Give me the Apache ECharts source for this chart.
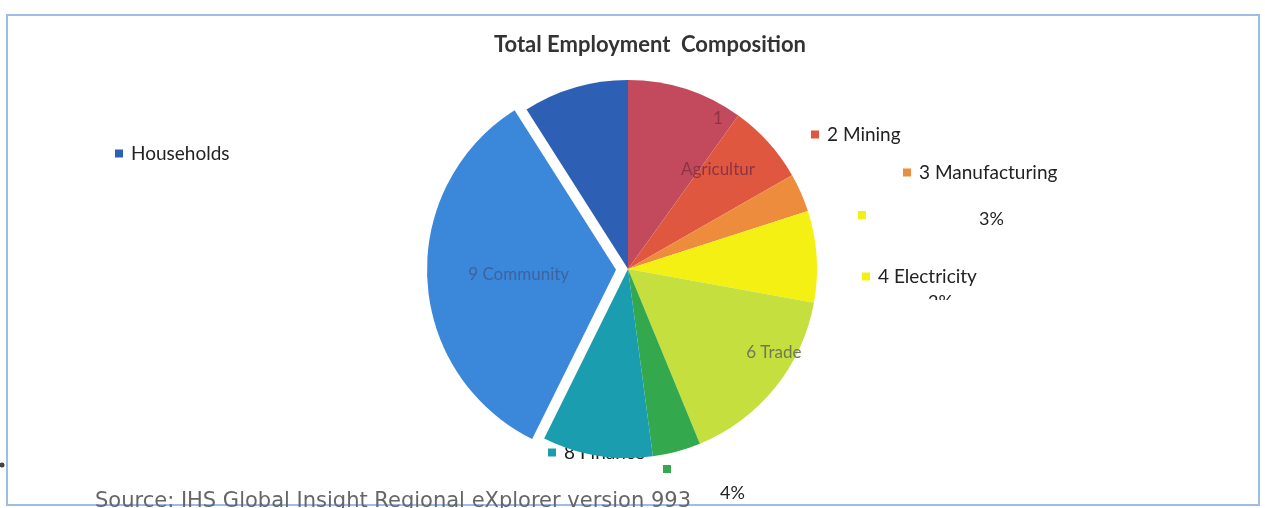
<!DOCTYPE html>
<html>
<head>
<meta charset="utf-8">
<title>Total Employment Composition</title>
<script src="https://cdn.jsdelivr.net/npm/echarts@6/dist/echarts.min.js"></script>
<style>
  html, body { margin: 0; padding: 0; background: #fff; }
  #chart { width: 1265px; height: 508px; }
</style>
</head>
<body>
<div id="chart"></div>
<script>
// sectors and their share of total employment (%)
const sectors = ['1 Agriculture', '2 Mining', '3 Manufacturing', '4 Electricity', '6 Trade',
                 '7 Transport', '8 Finance', '9 Community', 'Households'];
const shares = [9.9, 6.8, 3.3, 7.8, 15.9, 4.1, 9.4, 33.6, 9.0];
const sliceColors = ['#c24a5c', '#e0573f', '#ec8c3c', '#f5f014', '#c5df3f',
                     '#34a84c', '#1b9db0', '#3b87d9', '#2d5fb5'];
const pctLabels = ['3%', '2%', '4%'];
const sourceNote = 'Source: IHS Global Insight Regional eXplorer version 993';

const chart = echarts.init(document.getElementById('chart'));

// labels drawn inside some slices
const innerLabels = {
    '1 Agriculture': { text: '1\n\n\nAgricultur', color: '#8e3345', offset: [60, -32] },
    '6 Trade': { text: '6 Trade', color: '#6f7a52', offset: [70, 22] },
    '9 Community': { text: '9 Community', color: '#3d63a0', offset: [-22, 9] }
};

const pieData = sectors.map(function (name, i) {
    const item = { name: name, value: shares[i], itemStyle: { color: sliceColors[i] } };
    const lab = innerLabels[name];
    if (lab) {
        item.label = {
            show: true,
            position: 'inside',
            formatter: lab.text,
            color: lab.color,
            offset: lab.offset,
            fontSize: 17,
            fontFamily: 'Lato',
            lineHeight: 17
        };
    }
    if (name === '9 Community') {
        item.selected = true;   // exploded slice
    }
    return item;
});

// one small legend per outside key, like the original
function key(name, left, top, showText) {
    return {
        data: [name],
        left: left,
        top: top,
        orient: 'vertical',
        icon: 'rect',
        itemWidth: 8,
        itemHeight: 8,
        itemGap: 0,
        selectedMode: false,
        z: 1,
        formatter: showText ? '{name}' : function () { return ''; },
        textStyle: { fontSize: 19, color: '#222', fontFamily: 'Lato', padding: [0, 0, 0, 3] }
    };
}

chart.setOption({
    animation: false,
    title: {
        text: 'Total Employment  Composition',
        left: 645,
        textAlign: 'center',
        top: 29,
        textStyle: { fontSize: 22, fontWeight: 'bold', color: '#333', fontFamily: 'Lato' }
    },
    legend: [
        key('Households', 110, 139, true),
        key('2 Mining', 806, 120, true),
        key('3 Manufacturing', 898, 158, true),
        key('4 Electricity', 853, 206, false),
        key('4 Electricity', 857, 262, true),
        key('8 Finance', 543, 438, true),
        key('7 Transport', 658, 460, false)
    ],
    series: [{
        type: 'pie',
        center: [628, 269],
        radius: 189,
        startAngle: 90,
        clockwise: true,
        selectedMode: 'single',
        selectedOffset: 12,
        z: 2,
        label: { show: false },
        labelLine: { show: false },
        emphasis: { disabled: true },
        itemStyle: { borderColor: '#fff', borderWidth: 0 },
        data: pieData
    }],
    graphic: [
        {   // outer frame
            type: 'rect',
            shape: { x: 7, y: 15, width: 1252, height: 490 },
            style: { fill: 'none', stroke: '#9dbde6', lineWidth: 2 },
            z: 0
        },
        {
            type: 'text', left: 979, top: 210, z: 5,
            style: { text: pctLabels[0], fontSize: 18, fill: '#222', fontFamily: 'Lato' }
        },
        {
            type: 'text', left: 928, top: 293, z: 5,
            style: { text: pctLabels[1], fontSize: 18, fill: '#222', fontFamily: 'Lato' }
        },
        {   // the 2% label is cut off in the original
            type: 'rect', z: 6,
            shape: { x: 900, y: 300, width: 80, height: 20 },
            style: { fill: '#fff' }
        },
        {
            type: 'text', left: 720, top: 484, z: 5,
            style: { text: pctLabels[2], fontSize: 18, fill: '#222', fontFamily: 'Lato' }
        },
        {
            type: 'text', left: 95, top: 491, z: 5,
            style: { text: sourceNote, fontSize: 21, fill: '#666', fontFamily: 'DejaVu Sans' }
        },
        {   // small dark speck at the left edge of the scan
            type: 'circle', z: 5,
            shape: { cx: 2, cy: 465, r: 2.5 },
            style: { fill: '#444' }
        }
    ]
});
</script>
</body>
</html>
